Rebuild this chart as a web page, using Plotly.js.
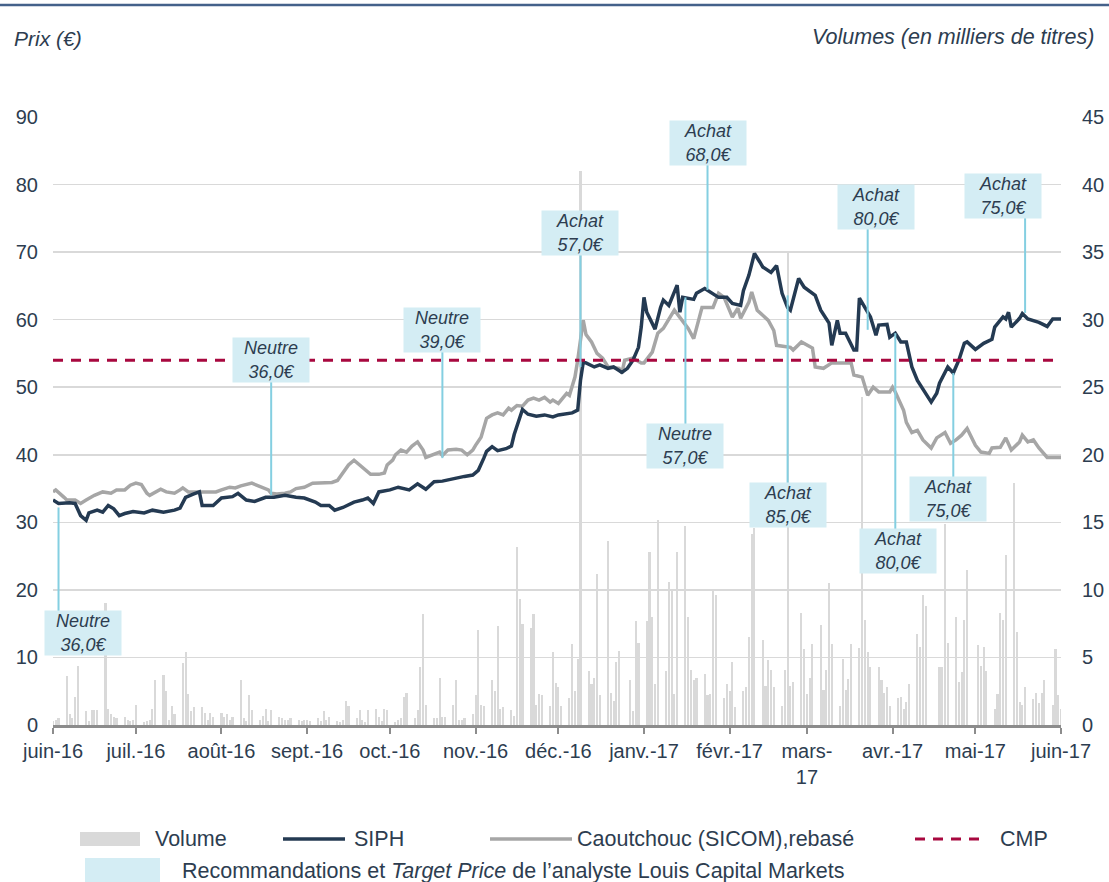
<!DOCTYPE html>
<html>
<head>
<meta charset="utf-8">
<script src="https://cdn.plot.ly/plotly-3.0.1.min.js"></script>
<style>
  html, body { margin: 0; padding: 0; background: #fff; }
  #plotDiv { width: 1109px; height: 882px; }
</style>
</head>
<body>
<div id="plotDiv"></div>
<script>
// SIPH vs caoutchouc SICOM, juin 2016 - juin 2017, volumes en milliers de titres

var siphDates = [
  '2016-06-01','2016-06-03','2016-06-07','2016-06-09','2016-06-11','2016-06-13','2016-06-14','2016-06-17','2016-06-19','2016-06-21','2016-06-23','2016-06-25','2016-06-27','2016-06-30',
  '2016-07-04','2016-07-07','2016-07-11','2016-07-15','2016-07-17','2016-07-19','2016-07-22','2016-07-24','2016-07-25','2016-07-29',
  '2016-08-01','2016-08-05','2016-08-07','2016-08-10','2016-08-13','2016-08-17','2016-08-20','2016-08-24','2016-08-28','2016-08-31',
  '2016-09-04','2016-09-06','2016-09-09','2016-09-11','2016-09-14','2016-09-18','2016-09-21','2016-09-23','2016-09-25','2016-09-27',
  '2016-10-01','2016-10-04','2016-10-08','2016-10-11','2016-10-14','2016-10-17','2016-10-20','2016-10-24','2016-10-28','2016-10-31',
  '2016-11-02','2016-11-04','2016-11-05','2016-11-07','2016-11-09','2016-11-12','2016-11-14','2016-11-15','2016-11-17','2016-11-18','2016-11-20','2016-11-23','2016-11-26','2016-11-29',
  '2016-12-01','2016-12-04','2016-12-06','2016-12-08','2016-12-09','2016-12-10','2016-12-11','2016-12-14','2016-12-16','2016-12-19','2016-12-21','2016-12-24','2016-12-26','2016-12-28','2016-12-30','2016-12-31',
  '2017-01-01','2017-01-02','2017-01-05','2017-01-07','2017-01-08','2017-01-10','2017-01-13','2017-01-14','2017-01-15','2017-01-19','2017-01-20','2017-01-23','2017-01-26','2017-01-28','2017-01-31',
  '2017-02-02','2017-02-05','2017-02-06','2017-02-08','2017-02-10','2017-02-12','2017-02-13','2017-02-16','2017-02-18','2017-02-20','2017-02-22','2017-02-23','2017-02-26','2017-02-28',
  '2017-03-03','2017-03-04','2017-03-06','2017-03-09','2017-03-10','2017-03-12','2017-03-13','2017-03-15','2017-03-18','2017-03-19','2017-03-20','2017-03-22','2017-03-24','2017-03-26','2017-03-27','2017-03-30','2017-03-31',
  '2017-04-02','2017-04-04','2017-04-06','2017-04-08','2017-04-10','2017-04-13','2017-04-15','2017-04-17','2017-04-18','2017-04-21','2017-04-23','2017-04-25','2017-04-27','2017-04-28',
  '2017-05-01','2017-05-04','2017-05-07','2017-05-08','2017-05-11','2017-05-12','2017-05-13','2017-05-14','2017-05-17','2017-05-18','2017-05-20','2017-05-24','2017-05-27','2017-05-29',
  '2017-06-01'
];
var siphPrice = [
  33.3,32.8,32.9,32.8,31.0,30.3,31.4,31.8,31.5,32.5,32.0,31.0,31.3,31.6,
  31.4,31.8,31.5,31.8,32.1,33.7,34.2,34.5,32.5,32.5,
  33.6,33.8,34.3,33.3,33.1,33.7,33.7,34.0,33.7,33.6,
  33.0,32.5,32.5,31.8,32.2,33.0,33.3,33.6,32.8,34.5,
  34.8,35.2,34.8,35.7,34.9,36.0,36.1,36.5,36.8,37.0,
  37.7,39.5,40.5,41.2,40.6,40.9,41.3,43.0,45.5,46.7,46.0,45.7,45.9,45.6,
  45.9,46.1,46.2,46.6,51.0,53.7,53.6,53.0,53.3,52.8,53.0,52.2,52.8,54.0,55.9,58.9,
  63.3,61.1,58.6,61.8,62.9,62.1,65.1,61.1,63.3,63.0,63.9,64.6,63.8,63.3,63.3,
  62.4,62.1,64.3,66.6,69.8,68.5,67.8,67.0,68.0,63.9,61.8,61.4,66.1,64.8,
  63.9,63.6,61.4,59.5,56.2,59.9,58.0,58.0,55.5,55.5,63.2,61.8,60.4,57.7,59.2,59.3,57.4,
  58.0,56.7,56.7,53.0,51.0,49.1,47.8,49.1,50.6,53.0,52.1,54.0,56.5,56.7,
  55.6,56.5,57.1,58.9,60.4,60.1,61.1,58.9,60.2,60.9,60.1,59.6,59.0,60.1,
  60.1
];

var sicomDates = [
  '2016-06-01','2016-06-02','2016-06-05','2016-06-06','2016-06-09','2016-06-11','2016-06-13','2016-06-16','2016-06-19','2016-06-22','2016-06-24','2016-06-27','2016-06-29',
  '2016-07-01','2016-07-03','2016-07-05','2016-07-06','2016-07-08','2016-07-10','2016-07-12','2016-07-15','2016-07-17','2016-07-18','2016-07-20','2016-07-23','2016-07-26','2016-07-30',
  '2016-08-01','2016-08-04','2016-08-06','2016-08-08','2016-08-12','2016-08-14','2016-08-16','2016-08-18','2016-08-19','2016-08-21','2016-08-24','2016-08-26','2016-08-28','2016-08-31',
  '2016-09-03','2016-09-06','2016-09-10','2016-09-12','2016-09-14','2016-09-16','2016-09-18','2016-09-20','2016-09-22','2016-09-24','2016-09-27','2016-09-29','2016-09-30',
  '2016-10-02','2016-10-03','2016-10-05','2016-10-07','2016-10-09','2016-10-11','2016-10-13','2016-10-14','2016-10-16','2016-10-19','2016-10-20','2016-10-22','2016-10-25','2016-10-27','2016-10-29','2016-10-31',
  '2016-11-01','2016-11-03','2016-11-05','2016-11-07','2016-11-09','2016-11-11','2016-11-13','2016-11-14','2016-11-16','2016-11-18','2016-11-20','2016-11-22','2016-11-24','2016-11-26','2016-11-28','2016-11-29',
  '2016-12-01','2016-12-04','2016-12-05','2016-12-07','2016-12-08','2016-12-09','2016-12-10','2016-12-11','2016-12-13','2016-12-15','2016-12-17','2016-12-19','2016-12-23','2016-12-24','2016-12-25','2016-12-28','2016-12-31',
  '2017-01-01','2017-01-04','2017-01-06','2017-01-08','2017-01-12','2017-01-14','2017-01-17','2017-01-19','2017-01-22','2017-01-26','2017-01-28','2017-01-30',
  '2017-02-02','2017-02-04','2017-02-05','2017-02-08','2017-02-09','2017-02-11','2017-02-15','2017-02-17','2017-02-18','2017-02-23','2017-02-24','2017-02-27',
  '2017-03-03','2017-03-04','2017-03-07','2017-03-10','2017-03-13','2017-03-17','2017-03-18','2017-03-21','2017-03-23','2017-03-25','2017-03-27','2017-03-31',
  '2017-04-01','2017-04-02','2017-04-05','2017-04-06','2017-04-08','2017-04-10','2017-04-12','2017-04-15','2017-04-17','2017-04-20','2017-04-22','2017-04-24','2017-04-26','2017-04-28',
  '2017-05-01','2017-05-03','2017-05-06','2017-05-07','2017-05-10','2017-05-12','2017-05-14','2017-05-17','2017-05-18','2017-05-20','2017-05-22','2017-05-24','2017-05-27',
  '2017-06-01'
];
var sicomPrice = [
  34.5,34.8,33.7,33.3,33.3,32.8,33.3,34.0,34.5,34.3,34.8,34.8,35.5,
  35.8,35.6,34.3,34.0,34.5,34.9,34.5,34.3,34.8,35.1,34.5,34.5,34.6,34.5,
  34.8,35.2,35.1,35.4,35.8,35.5,35.2,34.8,34.3,34.2,34.3,34.5,35.0,35.2,
  35.8,35.8,35.9,36.2,37.3,38.5,39.2,38.5,37.7,37.1,37.1,37.3,38.5,
  39.2,40.0,40.7,40.4,41.3,41.9,40.7,39.6,39.9,40.4,39.9,40.7,40.8,40.7,40.0,40.7,
  41.4,42.6,45.4,45.9,46.2,45.9,46.9,46.6,47.3,47.2,48.1,48.4,48.1,48.5,47.8,48.1,
  47.6,49.1,48.8,51.5,54.0,57.4,59.9,57.8,56.7,55.0,54.3,53.0,52.8,52.1,54.0,54.3,53.6,
  53.6,55.2,58.0,58.7,61.4,60.4,58.7,57.2,61.8,61.8,63.9,63.3,
  60.4,61.7,60.2,62.6,64.1,61.4,59.9,58.4,56.2,55.9,55.5,56.7,
  55.8,53.0,52.8,53.6,53.6,53.6,51.8,51.5,48.8,50.0,49.3,49.3,
  50.0,49.3,46.6,44.8,43.3,43.6,42.2,41.0,42.5,43.3,41.7,42.2,42.9,43.9,
  41.4,40.4,40.2,41.0,41.1,42.5,40.7,41.9,42.9,41.9,42.2,41.0,39.6,
  39.6
];

var cmpValue = 54.0;

// volumes journaliers (milliers de titres), un chiffre par seance
var volJun16 = [0.3,0.4,0.5,3.6,0.8,0.5,2.1,4.4,1.0,0.3,1.1,1.1,1.1,9.0,1.2,0.8,0.6,0.5,0.6,0.4,0.3,0.4];
var volJul16 = [1.5,0.2,0.3,0.4,1.2,3.3,3.7,2.5,0.4,1.4,0.8,4.6,5.4,2.3,1.0,1.3,1.3,0.9,0.4,0.9,0.6];
var volAug16 = [0.9,0.6,0.8,0.4,0.6,3.3,0.5,0.3,2.2,1.1,0.4,0.7,1.2,0.3,1.1,0.6,0.5,0.4,0.4,0.5,0.4,0.3,0.4];
var volSep16 = [0.4,0.3,0.5,0.3,1.0,0.4,0.6,0.3,0.2,0.4,1.8,1.4,0.5,1.1,0.4,0.2,1.1,1.2,0.6,0.3,1.2,1.1];
var volOct16 = [0.2,0.4,0.5,2.1,2.4,0.5,1.1,4.3,8.2,1.5,0.5,0.5,3.5,0.6,0.6,1.5,3.3,0.4,0.4,0.5,0.8];
var volNov16 = [2.2,7.0,1.5,1.4,3.3,2.5,7.3,1.2,1.3,1.1,0.7,13.2,9.3,7.5,7.2,8.2,1.5,2.3,2.2,1.4,5.4,3.1];
var volDec16 = [2.8,1.4,2.0,6.0,2.5,4.9,41.0,4.0,3.0,3.5,11.2,2.2,13.6,2.4,1.8,4.7,5.5,3.3,1.0,7.7,6.1];
var volJan17 = [7.7,12.8,8.0,3.0,15.2,4.0,10.6,10.1,2.3,12.8,14.7,8.0,4.1,3.3,3.5,3.8,2.2,2.3,9.9,9.6,2.0,3.0];
var volFeb17 = [2.5,4.7,1.3,2.5,2.8,6.5,14.1,14.6,6.3,2.9,4.8,4.1,2.8,1.4,4.1,35.0,2.9,3.2,8.3,5.6];
var volMar17 = [2.3,3.5,6.0,7.4,2.6,4.1,10.5,6.0,1.4,4.9,2.6,3.4,6.0,5.7,24.3,7.8,5.4,4.3,4.3,3.3,2.4,2.8,1.4];
var volApr17 = [2.0,2.1,1.2,1.7,3.0,6.7,5.8,9.6,8.8,4.3,4.3,14.9,6.1,8.0,3.2,3.9,7.8,11.5];
var volMay17 = [5.9,4.4,5.8,4.0,1.2,2.3,8.3,7.8,12.6,17.9,6.9,1.7,1.5,2.8,1.9,2.4,1.6,2.4,3.3,1.5,5.6,2.2];
var volJun17 = [1.2];
var holidays = ['2016-12-26','2017-04-14','2017-04-17','2017-05-01'];

var monthTicks = ['2016-06-01','2016-07-01','2016-08-01','2016-09-01','2016-10-01','2016-11-01','2016-12-01',
                  '2017-01-01','2017-02-01','2017-03-01','2017-04-01','2017-05-01','2017-06-01'];
var monthLabels = ['juin-16','juil.-16','août-16','sept.-16','oct.-16','nov.-16','déc.-16',
                   'janv.-17','févr.-17','mars-<br>17','avr.-17','mai-17','juin-17'];

// recommandations Louis Capital Markets
var recoDates = ['2016-06-03','2016-08-19','2016-10-20','2016-12-09','2017-01-24','2017-01-16',
                 '2017-02-22','2017-03-23','2017-04-02','2017-04-23','2017-05-19'];
var recoLabels = ['Neutre','Neutre','Neutre','Achat','Achat','Neutre','Achat','Achat','Achat','Achat','Achat'];
var recoTargets = [36.0, 36.0, 39.0, 57.0, 68.0, 57.0, 85.0, 80.0, 80.0, 75.0, 75.0];

// placement des bulles (date du centre, hauteur en prix, pied du trait)
var boxDates = ['2016-06-12','2016-08-19','2016-10-20','2016-12-09','2017-01-24','2017-01-16',
                '2017-02-22','2017-03-26','2017-04-03','2017-04-21','2017-05-11'];
var boxY = [13.6, 54.1, 58.5, 72.8, 86.2, 41.3, 32.6, 76.7, 25.7, 33.5, 78.3];
var tipY = [32.2, 34.0, 39.5, 53.0, 64.4, 63.3, 63.6, 58.5, 58.0, 52.1, 61.0];

var TEXT = '#2d3d50';
var FONT = 'Liberation Sans, Arial, sans-serif';
var NAVY = '#243a52';
var GREY = '#a6a6a6';
var RED = '#a8083f';
var CYAN = '#84cfe1';
var BOX = '#d4edf4';

function tradingDays(year, month, count) {
  var out = [];
  for (var d = 1; d <= 31 && out.length < count; d++) {
    var dt = new Date(Date.UTC(year, month - 1, d));
    if (dt.getUTCMonth() !== month - 1) break;
    var wd = dt.getUTCDay();
    var s = dt.toISOString().slice(0, 10);
    if (wd === 0 || wd === 6 || holidays.indexOf(s) >= 0) continue;
    out.push(s);
  }
  return out;
}

var volByMonth = [
  [2016, 6, volJun16], [2016, 7, volJul16], [2016, 8, volAug16], [2016, 9, volSep16],
  [2016, 10, volOct16], [2016, 11, volNov16], [2016, 12, volDec16], [2017, 1, volJan17],
  [2017, 2, volFeb17], [2017, 3, volMar17], [2017, 4, volApr17], [2017, 5, volMay17], [2017, 6, volJun17]
];
var volDates = [], volValues = [];
volByMonth.forEach(function (m) {
  var days = tradingDays(m[0], m[1], m[2].length);
  for (var i = 0; i < days.length; i++) {
    volDates.push(days[i]);
    volValues.push(m[2][i]);
  }
});

var volume = {
  type: 'bar', x: volDates, y: volValues, yaxis: 'y',
  width: 0.75 * 86400000,
  marker: { color: '#d9d9d9', line: { width: 0 } },
  hoverinfo: 'skip', showlegend: false
};
var sicom = {
  type: 'scatter', mode: 'lines', x: sicomDates, y: sicomPrice, yaxis: 'y2',
  line: { color: GREY, width: 3.5 }, showlegend: false
};
var siph = {
  type: 'scatter', mode: 'lines', x: siphDates, y: siphPrice, yaxis: 'y2',
  line: { color: NAVY, width: 3.5 }, showlegend: false
};
var cmp = {
  type: 'scatter', mode: 'lines',
  x: [siphDates[0], siphDates[siphDates.length - 1]], y: [cmpValue, cmpValue], yaxis: 'y2',
  line: { color: RED, width: 3, dash: '10px,8px' }, showlegend: false
};

// pixel helpers for the hand-made legend (plot area 53..1061 x 117..725)
var PL = 53, PR = 1061, PT = 117, PB = 725;
function px(x) { return (x - PL) / (PR - PL); }
function py(y) { return (PB - y) / (PB - PT); }

var shapes = [
  { type: 'line', xref: 'paper', yref: 'paper', x0: px(0), x1: px(1109), y0: py(5), y1: py(5),
    line: { color: '#44618a', width: 2.5 } },
  // legend swatches
  { type: 'rect', xref: 'paper', yref: 'paper', x0: px(80), x1: px(140), y0: py(846), y1: py(832),
    fillcolor: '#d9d9d9', line: { width: 0 } },
  { type: 'line', xref: 'paper', yref: 'paper', x0: px(283), x1: px(345), y0: py(839), y1: py(839),
    line: { color: NAVY, width: 3.5 } },
  { type: 'line', xref: 'paper', yref: 'paper', x0: px(490), x1: px(572), y0: py(839), y1: py(839),
    line: { color: GREY, width: 3.5 } },
  { type: 'line', xref: 'paper', yref: 'paper', x0: px(915), x1: px(985), y0: py(839), y1: py(839),
    line: { color: RED, width: 3, dash: '10px,8px' } },
  { type: 'rect', xref: 'paper', yref: 'paper', x0: px(85), x1: px(160), y0: py(882), y1: py(858),
    fillcolor: BOX, line: { width: 0 } }
];

var LEG = 21.5;
var annotations = [
  { xref: 'paper', yref: 'paper', x: px(12), y: py(38), xanchor: 'left', yanchor: 'middle',
    text: 'Prix (€)', showarrow: false, font: { family: FONT, size: 21, color: TEXT, style: 'italic' } },
  { xref: 'paper', yref: 'paper', x: px(1096), y: py(37), xanchor: 'right', yanchor: 'middle',
    text: 'Volumes (en milliers de titres)', showarrow: false,
    font: { family: FONT, size: 21.5, color: TEXT, style: 'italic' } },
  { xref: 'paper', yref: 'paper', x: px(153), y: py(839), xanchor: 'left', yanchor: 'middle',
    text: 'Volume', showarrow: false, font: { family: FONT, size: LEG, color: TEXT } },
  { xref: 'paper', yref: 'paper', x: px(352), y: py(839), xanchor: 'left', yanchor: 'middle',
    text: 'SIPH', showarrow: false, font: { family: FONT, size: LEG, color: TEXT } },
  { xref: 'paper', yref: 'paper', x: px(575), y: py(839), xanchor: 'left', yanchor: 'middle',
    text: 'Caoutchouc (SICOM),rebasé', showarrow: false, font: { family: FONT, size: LEG, color: TEXT } },
  { xref: 'paper', yref: 'paper', x: px(998), y: py(839), xanchor: 'left', yanchor: 'middle',
    text: 'CMP', showarrow: false, font: { family: FONT, size: LEG, color: TEXT } },
  { xref: 'paper', yref: 'paper', x: px(180), y: py(871), xanchor: 'left', yanchor: 'middle',
    text: 'Recommandations et <i>Target Price</i> de l’analyste Louis Capital Markets',
    showarrow: false, font: { family: FONT, size: LEG, color: TEXT } }
];

for (var i = 0; i < recoDates.length; i++) {
  shapes.push({
    type: 'line', xref: 'x', yref: 'y2', layer: 'above',
    x0: recoDates[i], x1: recoDates[i], y0: tipY[i], y1: boxY[i],
    line: { color: CYAN, width: 2 }
  });
  annotations.push({
    xref: 'x', yref: 'y2', x: boxDates[i], y: boxY[i],
    text: recoLabels[i] + '<br>' + recoTargets[i].toFixed(1).replace('.', ',') + '€',
    showarrow: false, bgcolor: BOX, borderpad: 1, width: 74, height: 42,
    align: 'center', valign: 'middle',
    font: { family: FONT, size: 18, color: TEXT, style: 'italic' }
  });
}

var layout = {
  width: 1109, height: 882,
  margin: { l: 53, r: 48, t: 117, b: 157 },
  paper_bgcolor: '#ffffff', plot_bgcolor: '#ffffff',
  font: { family: FONT, size: 20, color: TEXT },
  showlegend: false,
  bargap: 0,
  xaxis: {
    type: 'date', range: ['2016-06-01', '2017-06-01'],
    tickmode: 'array', tickvals: monthTicks, ticktext: monthLabels,
    showgrid: false, zeroline: false,
    showline: true, linecolor: '#8c8c8c', linewidth: 3,
    ticks: 'outside', ticklen: 6, tickwidth: 2, tickcolor: '#8c8c8c',
    tickfont: { family: FONT, size: 20, color: TEXT },
    fixedrange: true
  },
  yaxis: {
    range: [0, 45], dtick: 5, side: 'right',
    showgrid: true, gridcolor: '#d9d9d9', gridwidth: 1.5,
    zeroline: false, showline: false, ticks: '',
    ticklabelstandoff: 20,
    tickfont: { family: FONT, size: 20, color: TEXT }
  },
  yaxis2: {
    range: [0, 90], dtick: 10, overlaying: 'y', side: 'left',
    showgrid: false, zeroline: false, showline: false, ticks: '',
    ticklabelstandoff: 14,
    tickfont: { family: FONT, size: 20, color: TEXT }
  },
  shapes: shapes,
  annotations: annotations
};

Plotly.newPlot('plotDiv', [volume, sicom, siph, cmp], layout, { displayModeBar: false, staticPlot: true });
</script>
</body>
</html>
